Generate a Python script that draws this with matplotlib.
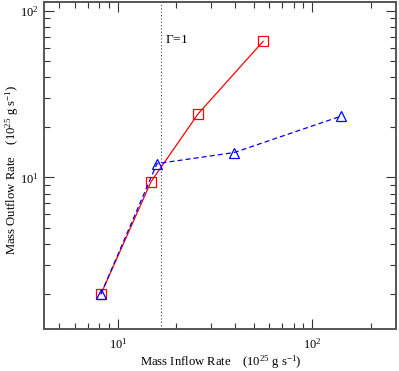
import math
import matplotlib
matplotlib.use("Agg")
import matplotlib.pyplot as plt
from matplotlib.ticker import LogLocator, NullFormatter, FuncFormatter

plt.rcParams['font.family'] = ['Liberation Serif', 'DejaVu Serif']
plt.rcParams['mathtext.fontset'] = 'custom'
plt.rcParams['mathtext.rm'] = 'Liberation Serif'
plt.rcParams['mathtext.it'] = 'Liberation Serif:italic'

# Data
red_x = [8.2, 14.8, 25.8, 55.8]
red_y = [2.0, 9.4, 24.0, 65.6]
blue_x = [8.2, 15.9, 39.6, 140.0]
blue_y = [2.0, 12.1, 14.1, 23.3]
gamma_x = 16.7

fig = plt.figure(figsize=(3.99, 3.71), dpi=100)
ax = fig.add_axes([0.110, 0.1132, 0.8825, 0.8814])
ax.set_xscale('log')
ax.set_yscale('log')
ax.set_xlim(4.17, 269)
ax.set_ylim(1.23, 113)

ax.axvline(gamma_x, color='#444444', linestyle=(0, (1, 2)), linewidth=0.8)
ax.text(17.4, 67, r'$\Gamma$=1', fontsize=9.5, va='center', ha='left')

ax.plot(red_x, red_y, color='red', linewidth=0.9, marker='s', markersize=7,
        markerfacecolor='none', markeredgecolor='red', markeredgewidth=0.9)
ax.plot(blue_x, blue_y, color='blue', linewidth=0.9, linestyle=(0, (4, 2.5)),
        marker='^', markersize=7.5, markerfacecolor='none',
        markeredgecolor='blue', markeredgewidth=0.9)

for s in ax.spines.values():
    s.set_color('#555555')
    s.set_linewidth(1.4)

ax.xaxis.set_major_locator(LogLocator(base=10, numticks=10))
ax.yaxis.set_major_locator(LogLocator(base=10, numticks=10))
ax.xaxis.set_minor_locator(LogLocator(base=10, subs=range(2, 10), numticks=20))
ax.yaxis.set_minor_locator(LogLocator(base=10, subs=range(2, 10), numticks=20))
ax.xaxis.set_minor_formatter(NullFormatter())
ax.yaxis.set_minor_formatter(NullFormatter())
fmt = FuncFormatter(lambda v, p: r'$10^{%d}$' % round(math.log10(v)))
ax.xaxis.set_major_formatter(fmt)
ax.yaxis.set_major_formatter(fmt)

ax.tick_params(which='both', direction='in', top=True, right=True, color='#333333')
ax.tick_params(which='major', length=7, width=0.8, labelsize=9)
ax.tick_params(axis='x', which='major', pad=6)
ax.tick_params(axis='y', which='major', pad=4)
ax.tick_params(which='minor', length=4, width=0.8)

fig.text(221 / 399, 1 - 362 / 371, r'Mass Inflow Rate    (10$^{25}$ g s$^{-1}$)',
         fontsize=9.1, ha='center', va='center')
fig.text(12 / 399, 1 - 170 / 371, r'Mass Outflow Rate    (10$^{25}$ g s$^{-1}$)',
         fontsize=9.1, ha='center', va='center', rotation=90)

fig.savefig('out.png', dpi=100)
